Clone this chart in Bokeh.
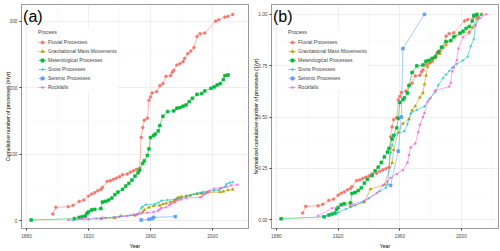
from bokeh.plotting import figure
from bokeh.models import Range1d, FixedTicker, Legend, LegendItem, Label, NumeralTickFormatter
from bokeh.layouts import row
from bokeh.embed import file_html
from bokeh.resources import INLINE

process_names = ["Fluvial Processes", "Gravitational Mass Movements", "Meterological Processes",
                 "Snow Processes", "Seismic Processes", "Rockfalls"]
colors = ["#F8766D", "#B79F00", "#00BA38", "#00BFC4", "#619CFF", "#F564E3"]
markers = ["circle", "triangle", "square", "cross", "square_x", "asterisk"]

fluvial_years = [1897, 1899, 1907, 1910, 1914, 1917, 1920, 1922, 1924, 1926, 1928, 1929, 1932, 1934,
                 1936, 1938, 1940, 1942, 1945, 1947, 1949, 1951, 1953, 1954, 1955, 1956, 1958, 1959,
                 1960, 1961, 1964, 1966, 1968, 1970, 1973, 1974, 1975, 1977, 1979, 1981, 1982, 1984,
                 1986, 1988, 1990, 1992, 1995, 2002, 2004, 2008, 2010, 2013]
fluvial_counts = [10, 20, 21, 23, 29, 31, 37, 40, 42, 45, 47, 50, 59, 60,
                  62, 64, 66, 69, 70, 73, 75, 77, 79, 125, 140, 151, 154, 181,
                  186, 192, 194, 203, 206, 217, 218, 223, 226, 234, 236, 239, 244, 251,
                  255, 260, 277, 281, 282, 300, 302, 306, 307, 310]

gravitational_years = [1928, 1937, 1941, 1950, 1955, 1956, 1959, 1962, 1966, 1968, 1970, 1973, 1975,
                       1976, 1977, 1978, 1980, 1983, 1986, 1990, 1993, 1996, 2005, 2007, 2010, 2013]
gravitational_counts = [3, 4, 7, 8, 13, 16, 20, 22, 23, 25, 26, 28, 29,
                        31, 33, 35, 36, 37, 38, 40, 41, 42, 43, 44, 46, 47]

meteorological_years = [1883, 1911, 1914, 1916, 1918, 1919, 1920, 1922, 1924, 1928, 1929, 1931, 1933,
                        1935, 1937, 1939, 1942, 1944, 1946, 1948, 1950, 1952, 1953, 1955, 1956, 1958,
                        1959, 1960, 1962, 1963, 1965, 1966, 1968, 1971, 1975, 1977, 1979, 1981, 1983,
                        1985, 1987, 1990, 1993, 1995, 1999, 2001, 2003, 2005, 2007, 2008, 2010]
meteorological_counts = [1, 3, 5, 6, 7, 11, 13, 16, 17, 18, 28, 29, 31,
                         34, 39, 43, 47, 52, 56, 61, 67, 72, 76, 86, 90, 98,
                         108, 125, 128, 130, 135, 143, 157, 164, 165, 169, 170, 172, 174,
                         179, 184, 190, 191, 195, 199, 201, 204, 206, 212, 218, 219]

snow_years = [1910, 1920, 1925, 1931, 1936, 1940, 1947, 1951, 1952, 1954, 1955, 1957, 1963, 1965,
              1967, 1971, 1976, 1979, 1983, 1985, 1988, 1990, 1992, 1994, 1997, 2001, 2004, 2006,
              2008, 2009, 2011, 2013]
snow_counts = [1, 2, 3, 4, 5, 6, 8, 9, 10, 19, 21, 24, 25, 27,
               30, 31, 32, 34, 36, 38, 40, 41, 42, 43, 44, 45, 46, 49,
               51, 55, 57, 58]

seismic_years = [1954, 1959, 1961, 1962, 1976]
seismic_counts = [1, 2, 3, 5, 6]

rockfall_years = [1907, 1916, 1929, 1937, 1945, 1949, 1952, 1954, 1958, 1962, 1965, 1966, 1967, 1970,
                  1972, 1973, 1975, 1976, 1978, 1980, 1983, 1992, 1993, 1994, 1995, 1997, 1998, 2001,
                  2005, 2009, 2012, 2016]
rockfall_counts = [1, 3, 4, 5, 7, 9, 10, 11, 12, 13, 15, 17, 19, 20,
                   23, 25, 27, 28, 31, 32, 34, 35, 36, 39, 40, 42, 45, 48,
                   49, 51, 53, 54]

series_years = [fluvial_years, gravitational_years, meteorological_years, snow_years, seismic_years, rockfall_years]
series_counts = [fluvial_counts, gravitational_counts, meteorological_counts, snow_counts, seismic_counts, rockfall_counts]

x_major = [1880, 1920, 1960, 2000]
x_minor = [1900, 1940, 1980, 2020]

FONT = "Liberation Sans"


def make_fig(xr, yr, ymajor, yminor, ylabel, tag, tag_y, normalized, title_standoff):
    p = figure(width=250, height=251, x_range=Range1d(*xr), y_range=Range1d(*yr),
               output_backend="svg", toolbar_location=None,
               min_border_left=21, min_border_right=2, min_border_top=4, min_border_bottom=18,
               background_fill_color="white", border_fill_color="white")
    p.outline_line_color = "#999999"
    p.outline_line_width = 1
    p.xaxis.ticker = FixedTicker(ticks=x_major, minor_ticks=x_minor)
    p.yaxis.ticker = FixedTicker(ticks=ymajor, minor_ticks=yminor)
    for g in (p.xgrid, p.ygrid):
        g.grid_line_color = "#EBEBEB"
        g.grid_line_width = 0.8
        g.minor_grid_line_color = "#F4F4F4"
        g.minor_grid_line_width = 0.5
    for ax in (p.xaxis, p.yaxis):
        ax.axis_line_color = None
        ax.major_tick_line_color = "#333333"
        ax.major_tick_out = 2
        ax.major_tick_in = 0
        ax.minor_tick_line_color = None
        ax.major_label_text_font = FONT
        ax.major_label_text_font_size = "4.8px"
        ax.major_label_text_color = "#4D4D4D"
        ax.axis_label_text_font = FONT
        ax.axis_label_text_font_size = "5.2px"
        ax.axis_label_text_font_style = "normal"
        ax.axis_label_text_color = "#000000"
    p.xaxis.major_label_standoff = 1
    p.xaxis.axis_label_standoff = 2
    p.yaxis.major_label_standoff = 0
    p.yaxis.axis_label_standoff = title_standoff
    p.xaxis.axis_label = "Year"
    p.yaxis.axis_label = ylabel
    if normalized:
        p.yaxis.formatter = NumeralTickFormatter(format="0.00")

    items = []
    for name, col, mk, xs, ys in zip(process_names, colors, markers, series_years, series_counts):
        if normalized:
            m = max(ys)
            ys = [v / m for v in ys]
        lr = p.line(xs, ys, line_color=col, line_width=0.7, line_alpha=0.8)
        sr = p.scatter(xs, ys, marker=mk, size=2.8, fill_color=col, line_color=col, line_width=0.6)
        items.append(LegendItem(label=name, renderers=[lr, sr]))

    leg = Legend(items=items, location=(17, 137), title="Process",
                 title_text_font=FONT, title_text_font_size="5.2px", title_text_font_style="normal",
                 title_standoff=3,
                 label_text_font=FONT, label_text_font_size="5px",
                 glyph_width=8, glyph_height=8, label_height=8, label_standoff=2,
                 spacing=1, padding=4, margin=0,
                 background_fill_color="white", background_fill_alpha=1.0,
                 border_line_color=None)
    p.add_layout(leg, "center")

    p.add_layout(Label(x=1877.8, y=tag_y, text=tag, text_font=FONT, text_font_size="16px",
                       text_baseline="top", text_align="left", text_color="black"))
    return p


p1 = make_fig((1876.8, 2023.2), (-11.8, 325), [0, 100, 200, 300], [50, 150, 250],
              "Cumulative number of processes (#/yr)", "(a)", 320, False, -5)
p2 = make_fig((1876.8, 2024.0), (-0.043, 1.048), [0, 0.25, 0.5, 0.75, 1.0],
              [0.125, 0.375, 0.625, 0.875],
              "Normalized cumulative number of processes (1/yr)", "(b)", 1.032, True, -4)

layout = row(p1, p2)
open("out.html", "w").write(file_html(layout, INLINE))
